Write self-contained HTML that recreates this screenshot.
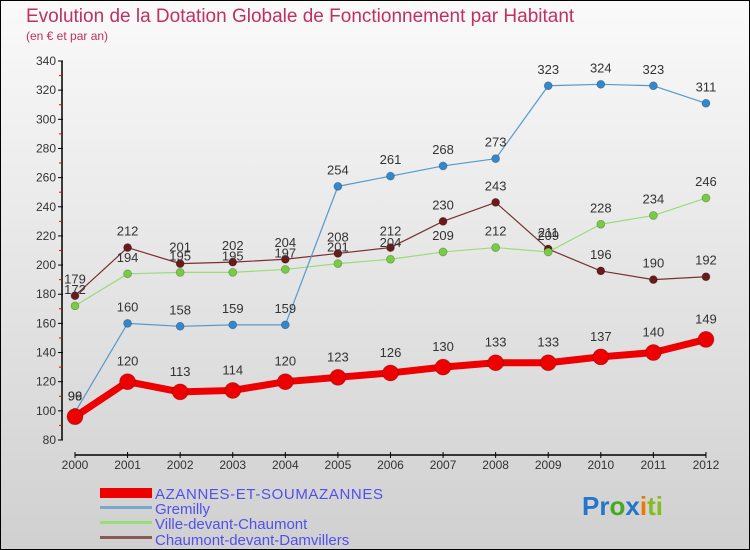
<!DOCTYPE html>
<html><head><meta charset="utf-8"><style>
body{margin:0;width:750px;height:550px;overflow:hidden}
#c{position:absolute;left:0;top:0;width:748px;height:548px;border:1px solid #000;background:linear-gradient(#fafafa,#d0d0d0);font-family:"Liberation Sans",sans-serif}
</style></head><body>
<div id="c">
<svg id="s" width="750" height="550" style="position:absolute;left:-1px;top:-1px" font-family="Liberation Sans, sans-serif">
<text x="26" y="22" font-size="19" fill="#c03060">Evolution de la Dotation Globale de Fonctionnement par Habitant</text>
<text x="26" y="40" font-size="12" fill="#c03060">(en € et par an)</text>
<g id="ax"></g><g id="ser"></g>
<g font-size="15" fill="#5050ee">
<rect x="100" y="488" width="52" height="10" fill="#ee0000"/>
<text x="155" y="499" textLength="228">AZANNES-ET-SOUMAZANNES</text>
<rect x="100" y="506" width="52" height="3" fill="#7aa8cc"/>
<text x="155" y="514">Gremilly</text>
<rect x="100" y="521" width="52" height="3" fill="#99dd77"/>
<text x="155" y="529">Ville-devant-Chaumont</text>
<rect x="100" y="536" width="52" height="3" fill="#8a5a5a"/>
<text x="155" y="545">Chaumont-devant-Damvillers</text>
</g>
<g font-size="26" font-weight="bold">
<text x="582" y="515"><tspan fill="#2277cc">Pr</tspan><tspan fill="#44aa22">o</tspan><tspan fill="#2277cc">x</tspan><tspan fill="#ee7700">i</tspan><tspan fill="#88bb22">ti</tspan></text>
</g>
</svg>
</div>
<script>
const years=[2000,2001,2002,2003,2004,2005,2006,2007,2008,2009,2010,2011,2012];
const yTicks=[80,100,120,140,160,180,200,220,240,260,280,300,320,340];
const azannes=[96,120,113,114,120,123,126,130,133,133,137,140,149];
const gremilly=[99,160,158,159,159,254,261,268,273,323,324,323,311];
const ville=[172,194,195,195,197,201,204,209,212,209,228,234,246];
const chaumont=[179,212,201,202,204,208,212,230,243,211,196,190,192];
const NS="http://www.w3.org/2000/svg";
const X=y=>75+(y-2000)*52.58, Y=v=>440-(v-80)*1.4577;
function mk(p,t,a){const e=document.createElementNS(NS,t);for(const k in a)e.setAttribute(k,a[k]);p.appendChild(e);return e;}
const ax=document.getElementById('ax'),ser=document.getElementById('ser');
let l=mk(ax,'line',{x1:62,y1:Y(340),x2:62,y2:Y(80),stroke:'#000','stroke-width':1.5});


l=mk(ax,'line',{x1:75,y1:455,x2:706,y2:455,stroke:'#000','stroke-width':1.5});


yTicks.forEach((v,i)=>{mk(ax,'line',{x1:58,y1:Y(v),x2:63,y2:Y(v),stroke:'#000'});
 if(i<yTicks.length-1)mk(ax,'line',{x1:59,y1:Y(v+10),x2:62,y2:Y(v+10),stroke:'#e00'});
 const t=mk(ax,'text',{x:56,y:Y(v)+4,'font-size':12,fill:'#333','text-anchor':'end'});t.textContent=v;
 
 });
years.forEach(y=>{mk(ax,'line',{x1:X(y),y1:452,x2:X(y),y2:458,stroke:'#000'});
 const t=mk(ax,'text',{x:X(y),y:469,'font-size':12,fill:'#333','text-anchor':'middle'});t.textContent=y;
 
 });
function series(vals,col,dot,w,r,name){
 const g=mk(ser,'g',{});
 
 
 mk(g,'polyline',{points:vals.map((v,i)=>X(years[i])+','+Y(v)).join(' '),fill:'none',stroke:col,'stroke-width':w,'stroke-linejoin':'round'});
 vals.forEach((v,i)=>{const c=mk(g,'circle',{cx:X(years[i]),cy:Y(v),r:r,fill:dot,stroke:'rgba(0,0,0,0.25)','stroke-width':0.8});
  
  
  const t=mk(g,'text',{x:X(years[i]),y:Y(v)-(r+8),'font-size':13,fill:'#333','text-anchor':'middle'});t.textContent=v;
  
  });
}
series(chaumont,'#7a3030','#6a1a1a',1.2,4,'chaumont');
series(ville,'#99dd77','#77cc44',1.2,4,'ville');
series(gremilly,'#5599cc','#3388cc',1.2,4,'gremilly');
series(azannes,'#ee0000','#ee0000',7,8,'azannes');
</script>
</body></html>
